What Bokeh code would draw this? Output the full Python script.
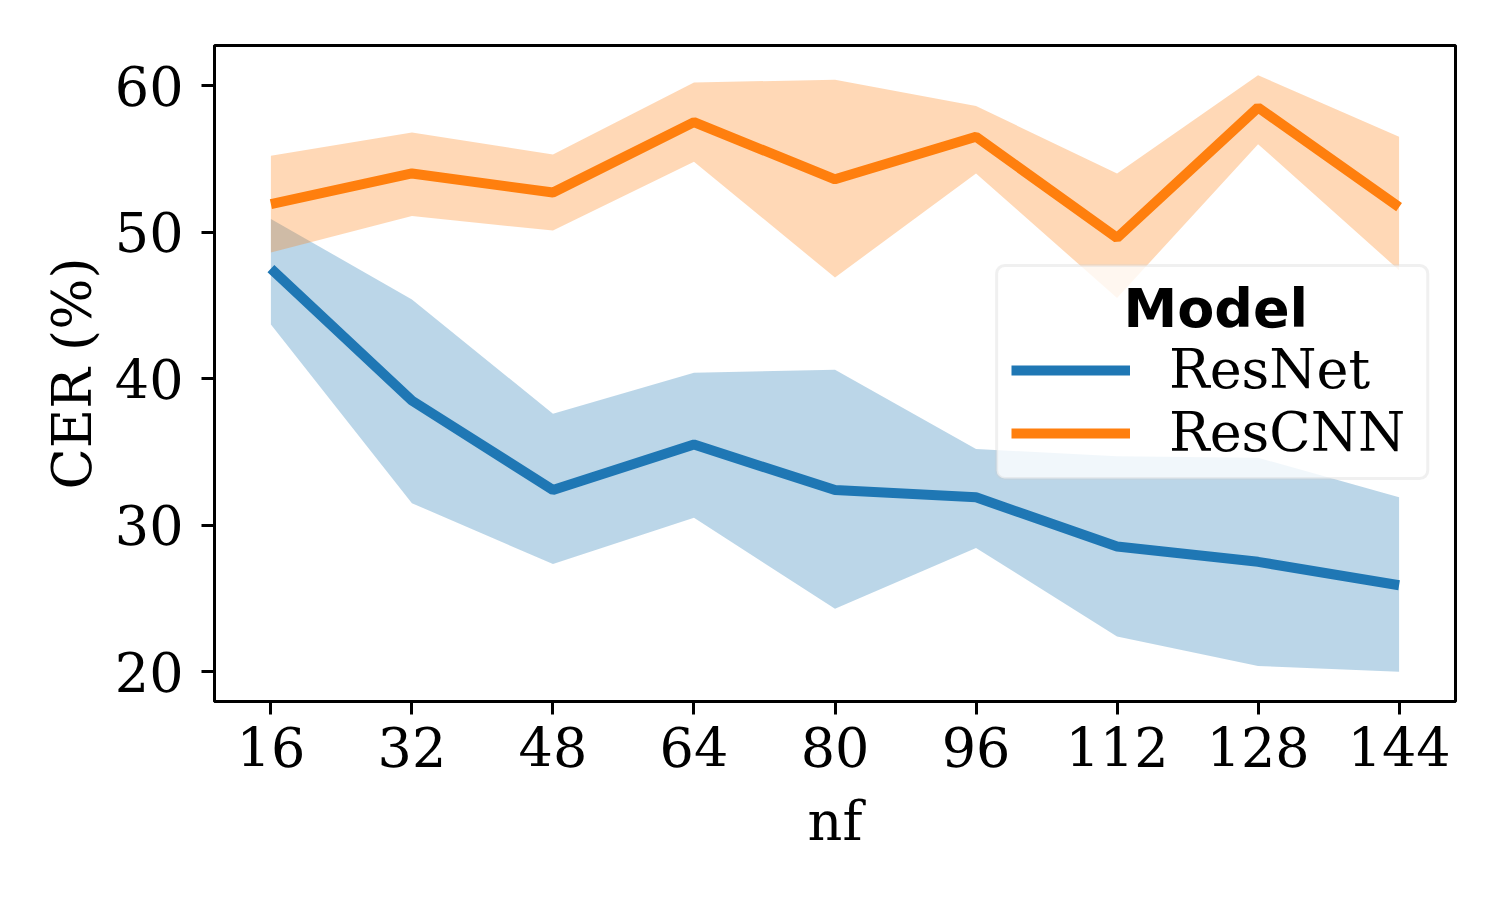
from bokeh.plotting import figure
from bokeh.models import Range1d, FixedTicker, Legend, LegendItem, Label, BoxAnnotation
from bokeh.embed import file_html
from bokeh.resources import INLINE

nf = [16, 32, 48, 64, 80, 96, 112, 128, 144]

resnet_mean = [47.5, 38.5, 32.4, 35.5, 32.4, 31.9, 28.55, 27.5, 25.9]
resnet_low = [43.7, 31.5, 27.35, 30.5, 24.3, 28.45, 22.4, 20.4, 20.0]
resnet_high = [50.9, 45.4, 37.6, 40.4, 40.6, 35.2, 34.7, 34.6, 31.9]

rescnn_mean = [51.9, 54.0, 52.7, 57.5, 53.6, 56.5, 49.6, 58.5, 51.7]
rescnn_low = [48.6, 51.1, 50.1, 54.8, 46.9, 54.0, 45.5, 56.0, 47.4]
rescnn_high = [55.2, 56.8, 55.3, 60.2, 60.4, 58.6, 54.0, 60.7, 56.5]

y_ticks = [20, 30, 40, 50, 60]
legend_title = "Model"

BLUE = "#1f77b4"
ORANGE = "#ff7f0e"
SERIF = "DejaVu Serif"
FS = "54px"

p = figure(
    frame_width=1241, frame_height=656,
    min_border_left=214, min_border_top=45, min_border_right=37, min_border_bottom=187,
    x_range=Range1d(9.6, 150.4), y_range=Range1d(17.97, 62.73),
    output_backend="svg", toolbar_location=None,
)
p.background_fill_color = "white"
p.border_fill_color = "white"
p.outline_line_color = "black"
p.outline_line_width = 3
p.xgrid.visible = False
p.ygrid.visible = False

p.varea(x=nf, y1=resnet_low, y2=resnet_high, fill_color=BLUE, fill_alpha=0.3)
p.varea(x=nf, y1=rescnn_low, y2=rescnn_high, fill_color=ORANGE, fill_alpha=0.3)
l1 = p.line(nf, resnet_mean, line_color=BLUE, line_width=10)
l2 = p.line(nf, rescnn_mean, line_color=ORANGE, line_width=10)

for ax in (p.xaxis[0], p.yaxis[0]):
    ax.axis_line_width = 3
    ax.major_tick_line_width = 3
    ax.major_tick_out = 13
    ax.major_tick_in = 0
    ax.minor_tick_line_color = None
    ax.major_label_text_font = SERIF
    ax.major_label_text_font_size = FS
    ax.major_label_text_color = "black"
    ax.axis_label_text_font = SERIF
    ax.axis_label_text_font_size = FS
    ax.axis_label_text_font_style = "normal"
    ax.axis_label_text_color = "black"

p.xaxis.ticker = FixedTicker(ticks=nf)
p.yaxis.ticker = FixedTicker(ticks=y_ticks)
p.xaxis.axis_label = "nf"
p.yaxis.axis_label = "CER (%)"
p.xaxis.major_label_standoff = 12
p.yaxis.major_label_standoff = 18
p.xaxis.axis_label_standoff = 20
p.yaxis.axis_label_standoff = 8

# legend frame (drawn as a box so that the centred title can sit on top of it)
legend_box = BoxAnnotation(
    left=98.34, right=147.25, bottom=33.19, top=47.72,
    fill_color="white", fill_alpha=0.8,
    line_color="#cccccc", line_width=3, border_radius=8,
)
p.add_layout(legend_box)

title_label = Label(
    x=123.2, y=44.78, text=legend_title,
    text_font="DejaVu Sans", text_font_style="bold", text_font_size=FS,
    text_color="black", text_align="center", text_baseline="alphabetic",
)
p.add_layout(title_label)

legend = Legend(
    items=[LegendItem(label="ResNet", renderers=[l1]), LegendItem(label="ResCNN", renderers=[l2])],
    location=(797, 237),
    title=" ",
    title_text_font_size="30px",
    title_standoff=13,
    label_text_font=SERIF,
    label_text_font_size=FS,
    label_text_color="black",
    glyph_width=119,
    label_standoff=39,
    padding=17,
    spacing=0,
    margin=0,
    background_fill_alpha=0,
    border_line_color=None,
)
p.add_layout(legend, "center")

open("out.html", "w").write(file_html(p, INLINE))
